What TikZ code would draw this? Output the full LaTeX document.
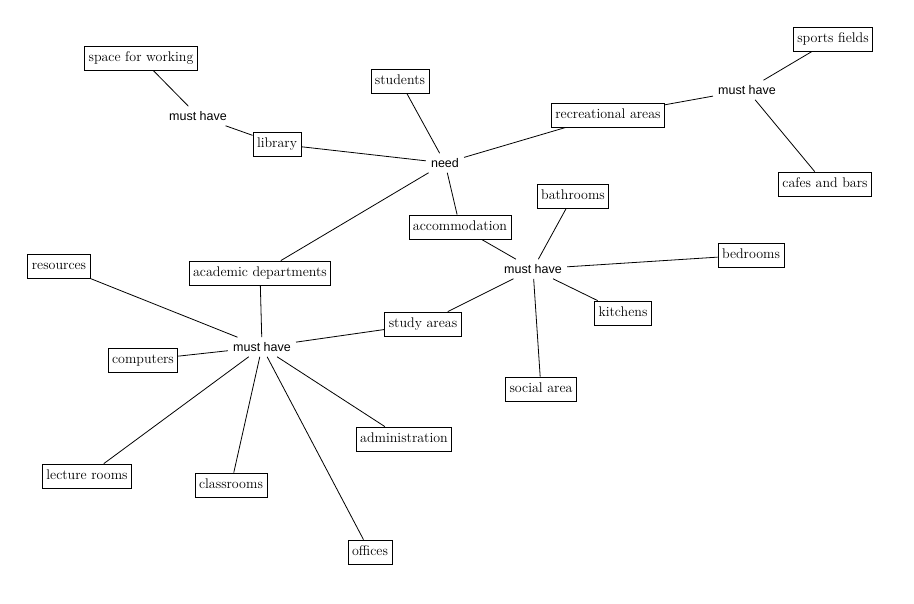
\documentclass[tikz,border=0pt]{standalone}
\usepackage{fontspec}
\newfontfamily\linkfont{Liberation Sans}

\begin{document}
\begin{tikzpicture}[x=1pt, y=-1pt,
    concept/.style={draw, line width=0.8pt, inner xsep=4pt, inner ysep=5.5pt,
        text height=10pt, text depth=3pt, font=\fontsize{14}{16}\selectfont},
    link/.style={inner sep=5pt, font=\linkfont\fontsize{12.5}{14}\selectfont},
    edge/.style={line width=0.8pt}]
    \useasboundingbox (0,0) rectangle (914,604);

    % Centre
    \node[link] (need) at (445,163) {need};
    \node[concept] (students) at (400,81) {students};
    \node[concept] (library) at (277,144) {library};
    \node[concept] (recreational) at (608,115) {recreational areas};
    \node[concept] (accommodation) at (460,227) {accommodation};
    \node[concept] (academic) at (260,273) {academic departments};

    % Bibliotheque
    \node[link] (havelib) at (198,116) {must have};
    \node[concept] (working) at (141,58) {space for working};

    % Loisirs
    \node[link] (haverec) at (747,90) {must have};
    \node[concept] (sports) at (833,39) {sports fields};
    \node[concept] (cafes) at (825,184) {cafes and bars};

    % Logement
    \node[link] (haveacc) at (533,269) {must have};
    \node[concept] (bathrooms) at (573,196) {bathrooms};
    \node[concept] (bedrooms) at (751,255) {bedrooms};
    \node[concept] (kitchens) at (623,313) {kitchens};
    \node[concept] (study) at (423,324) {study areas};
    \node[concept] (social) at (541,389) {social area};

    % Departements
    \node[link] (haveacad) at (262,347) {must have};
    \node[concept] (resources) at (59,266) {resources};
    \node[concept] (computers) at (143,360) {computers};
    \node[concept] (administration) at (404,439) {administration};
    \node[concept] (lecture) at (87,476) {lecture rooms};
    \node[concept] (classrooms) at (231,485) {classrooms};
    \node[concept] (offices) at (370,552) {offices};

    % Liens
    \draw[edge] (students) -- (need);
    \draw[edge] (library) -- (need);
    \draw[edge] (need) -- (recreational);
    \draw[edge] (need) -- (accommodation);
    \draw[edge] (need) -- (academic);
    \draw[edge] (library) -- (havelib) -- (working);
    \draw[edge] (recreational) -- (haverec);
    \draw[edge] (haverec) -- (sports);
    \draw[edge] (haverec) -- (cafes);
    \draw[edge] (accommodation) -- (haveacc);
    \foreach \n in {bathrooms, bedrooms, kitchens, study, social}
        \draw[edge] (haveacc) -- (\n);
    \draw[edge] (academic) -- (haveacad);
    \foreach \n in {resources, computers, study, administration, lecture, classrooms, offices}
        \draw[edge] (haveacad) -- (\n);
\end{tikzpicture}
\end{document}
